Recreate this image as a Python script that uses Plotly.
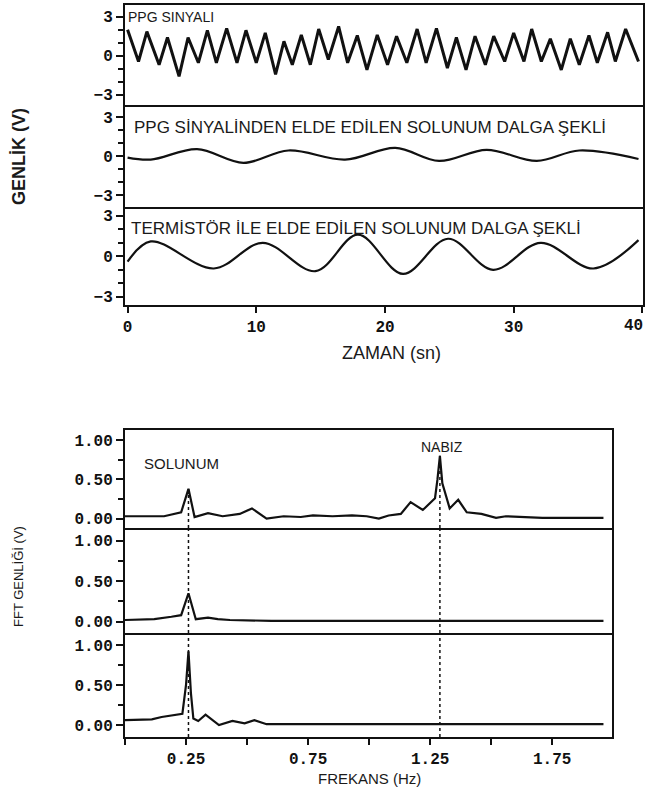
import plotly.graph_objects as go

# ---------------- data ----------------
ppg_t = [0, 0.85, 1.5, 2.45, 3.1, 4.0, 4.7, 5.5, 6.2, 6.9, 7.7, 8.5, 9.2, 10.0, 10.7, 11.5,
         12.15, 12.8, 13.5, 14.2, 14.85, 15.6, 16.4, 17.1, 17.85, 18.6, 19.4, 20.2, 20.9, 21.7,
         22.5, 23.2, 24.0, 24.85, 25.55, 26.3, 27.0, 27.8, 28.45, 29.3, 30.0, 30.8, 31.4, 32.15,
         32.85, 33.7, 34.4, 35.1, 35.85, 36.5, 37.3, 37.9, 38.7, 39.7]
ppg_v = [2.0, -0.45, 1.85, -0.7, 1.4, -1.6, 1.4, -0.55, 1.95, -0.55, 2.1, -0.55, 1.95, -0.55, 1.75, -1.45,
         1.1, -0.7, 1.6, -0.7, 2.05, -0.3, 2.25, -0.55, 1.55, -1.1, 1.6, -0.7, 1.5, -0.55,
         2.05, -0.55, 2.1, -0.95, 1.4, -1.1, 1.5, -0.7, 1.5, -0.45, 1.75, -0.45, 2.05, -0.45,
         1.3, -1.1, 1.3, -0.7, 1.55, -0.55, 1.8, -0.45, 2.05, -0.45]

resp_t = [0, 1.8, 5.4, 9.0, 12.5, 16.9, 20.8, 24.2, 27.9, 31.8, 35.1, 39.7]
resp_v = [-0.1, -0.25, 0.55, -0.5, 0.45, -0.25, 0.65, -0.35, 0.5, -0.35, 0.45, -0.2]

therm_t = [0, 1.8, 6.7, 10.5, 14.6, 17.9, 21.4, 24.9, 28.4, 32.1, 36.2, 39.7]
therm_v = [-0.4, 1.1, -0.9, 1.0, -1.1, 1.6, -1.3, 1.3, -1.0, 1.0, -0.9, 1.2]

fft1_f = [0, 0.16, 0.23, 0.26, 0.285, 0.34, 0.40, 0.47, 0.52, 0.58, 0.65, 0.72, 0.77, 0.85, 0.93, 0.99,
          1.04, 1.08, 1.13, 1.17, 1.22, 1.27, 1.28, 1.29, 1.30, 1.33, 1.365, 1.40, 1.46, 1.52, 1.56,
          1.62, 1.71, 1.96]
fft1_v = [0.03, 0.03, 0.08, 0.38, 0.02, 0.07, 0.03, 0.06, 0.13, 0.0, 0.03, 0.02, 0.04, 0.03, 0.04, 0.03,
          0.0, 0.04, 0.06, 0.21, 0.11, 0.26, 0.5, 0.8, 0.45, 0.13, 0.24, 0.08, 0.06, 0.01, 0.03,
          0.02, 0.01, 0.01]

fft2_f = [0, 0.12, 0.19, 0.23, 0.26, 0.29, 0.34, 0.38, 0.43, 0.6, 1.0, 1.5, 1.96]
fft2_v = [0.02, 0.03, 0.06, 0.08, 0.35, 0.03, 0.05, 0.03, 0.02, 0.01, 0.01, 0.01, 0.01]

fft3_f = [0, 0.11, 0.15, 0.2, 0.235, 0.25, 0.26, 0.27, 0.28, 0.30, 0.33, 0.385, 0.44, 0.49, 0.53, 0.58, 1.96]
fft3_v = [0.06, 0.07, 0.1, 0.12, 0.14, 0.5, 0.92, 0.4, 0.08, 0.05, 0.13, 0.0, 0.05, 0.02, 0.06, 0.01, 0.01]

resp_peak_f = 0.26
pulse_peak_f = 1.29

time_ticks = [0, 10, 20, 30, 40]
time_labels = ["0", "10", "20", "30", ""]
time_last_label = "40"
amp_ticks = [-3, 0, 3]
amp_labels = ["\u22123", "0", "3"]
freq_ticks = [0.25, 0.75, 1.25, 1.75]
freq_labels = ["0.25", "0.75", "1.25", "1.75"]
fftamp_ticks = [0.0, 0.5, 1.0]
fftamp_labels = ["0.00", "0.50", "1.00"]

texts_top = ["PPG SINYALI",
             "PPG S\u0130NYAL\u0130NDEN ELDE ED\u0130LEN SOLUNUM DALGA \u015eEKL\u0130",
             "TERM\u0130ST\u00d6R \u0130LE ELDE ED\u0130LEN SOLUNUM DALGA \u015eEKL\u0130"]

# ---------------- layout helpers ----------------
W, H = 646, 794
def px(x):
    return x / W
def py(y):
    return 1 - y / H

BLACK = "#111111"
TXT = "#1a1a1a"
TICKFONT = dict(family="Liberation Mono, Courier New, monospace", size=16, color=BLACK, weight="bold")
LABFONT = "Liberation Sans, Arial, sans-serif"

fig = go.Figure()

line_w = 2.2
fig.add_trace(go.Scatter(x=ppg_t, y=ppg_v, mode="lines", line=dict(color=BLACK, width=3),
                         xaxis="x", yaxis="y", showlegend=False))
fig.add_trace(go.Scatter(x=resp_t, y=resp_v, mode="lines", line=dict(color=BLACK, width=line_w, shape="spline"),
                         xaxis="x2", yaxis="y2", showlegend=False))
fig.add_trace(go.Scatter(x=therm_t, y=therm_v, mode="lines", line=dict(color=BLACK, width=line_w, shape="spline"),
                         xaxis="x3", yaxis="y3", showlegend=False))
fig.add_trace(go.Scatter(x=fft1_f, y=fft1_v, mode="lines", line=dict(color=BLACK, width=line_w),
                         xaxis="x4", yaxis="y4", showlegend=False))
fig.add_trace(go.Scatter(x=fft2_f, y=fft2_v, mode="lines", line=dict(color=BLACK, width=line_w),
                         xaxis="x5", yaxis="y5", showlegend=False))
fig.add_trace(go.Scatter(x=fft3_f, y=fft3_v, mode="lines", line=dict(color=BLACK, width=line_w),
                         xaxis="x6", yaxis="y6", showlegend=False))

top_x = [px(125), px(643)]
bot_x = [px(125), px(612)]
top_rows = [(5, 105), (107, 207), (209, 305)]
bot_rows = [(430, 528), (530, 633), (635, 737)]
top_xrange = [-0.2, 40.05]
top_yranges = [[-3.8, 3.9], [-3.9, 3.8], [-3.6, 3.5]]
bot_ranges = [[-0.12, 1.13], [-0.14, 1.13], [-0.15, 1.125]]

axes = {}
for i in range(3):
    n = i + 1
    xs = "" if n == 1 else str(n)
    last = (i == 2)
    axes["xaxis" + xs] = dict(
        domain=top_x, range=top_xrange, anchor="y" + xs, automargin=False,
        showline=True, linewidth=2, linecolor=BLACK, mirror=True, showgrid=False, zeroline=False,
        ticks="outside" if last else "", ticklen=6, tickwidth=2, tickcolor=BLACK,
        tickvals=time_ticks if last else [], ticktext=time_labels if last else None,
        showticklabels=last, tickfont=TICKFONT,
    )
    axes["yaxis" + xs] = dict(
        domain=[py(top_rows[i][1]), py(top_rows[i][0])], range=top_yranges[i], anchor="x" + xs,
        automargin=False,
        showline=True, linewidth=2, linecolor=BLACK, mirror=True, showgrid=False, zeroline=False,
        ticks="outside", ticklen=7, tickwidth=2, tickcolor=BLACK,
        tickvals=amp_ticks, ticktext=amp_labels, tickfont=TICKFONT,
        minor=dict(dtick=1, ticks="outside", ticklen=5, tickwidth=2, tickcolor=BLACK, tick0=0),
    )
for i in range(3):
    n = i + 4
    xs = str(n)
    last = (i == 2)
    axes["xaxis" + xs] = dict(
        domain=bot_x, range=[0, 1.995], anchor="y" + xs, automargin=False,
        showline=True, linewidth=2, linecolor=BLACK, mirror=True, showgrid=False, zeroline=False,
        ticks="outside" if last else "", ticklen=6, tickwidth=2, tickcolor=BLACK,
        tickvals=freq_ticks if last else [], ticktext=freq_labels if last else None,
        showticklabels=last, tickfont=TICKFONT,
        minor=dict(dtick=0.25, tick0=0, ticks="outside" if last else "", ticklen=6, tickwidth=2, tickcolor=BLACK),
    )
    axes["yaxis" + xs] = dict(
        domain=[py(bot_rows[i][1]), py(bot_rows[i][0])], range=bot_ranges[i], anchor="x" + xs,
        automargin=False,
        showline=True, linewidth=2, linecolor=BLACK, mirror=True, showgrid=False, zeroline=False,
        ticks="outside", ticklen=7, tickwidth=2, tickcolor=BLACK,
        tickvals=fftamp_ticks, ticktext=fftamp_labels, tickfont=TICKFONT,
        minor=dict(dtick=0.25, tick0=0, ticks="outside", ticklen=5, tickwidth=2, tickcolor=BLACK),
    )

# dotted marker lines at the breathing and pulse peaks
shapes = []
for f, peak in [(resp_peak_f, max(fft1_v[:5])), (pulse_peak_f, max(fft1_v))]:
    shapes.append(dict(type="line", xref="x4", yref="y4", x0=f, x1=f, y0=bot_ranges[0][0], y1=peak,
                       line=dict(color=BLACK, width=1.5, dash="dot")))
    for n in (5, 6):
        shapes.append(dict(type="line", xref="x%d" % n, yref="y%d domain" % n, x0=f, x1=f, y0=0, y1=1,
                           line=dict(color=BLACK, width=1.5, dash="dot")))

ann = []
ann.append(dict(text=texts_top[0], x=px(126), y=py(17), xanchor="left", yanchor="middle",
                font=dict(family=LABFONT, size=14, color=TXT)))
ann.append(dict(text=texts_top[1], x=px(132), y=py(127), xanchor="left", yanchor="middle",
                font=dict(family=LABFONT, size=17, color=TXT)))
ann.append(dict(text=texts_top[2], x=px(129), y=py(228), xanchor="left", yanchor="middle",
                font=dict(family=LABFONT, size=17, color=TXT)))
# last time tick label, kept fully inside the page at the right edge
ann.append(dict(text=time_last_label, x=px(645), y=py(306), xanchor="right", yanchor="top", yshift=-9,
                font=TICKFONT))
ann.append(dict(text="ZAMAN (sn)", x=px(391), y=py(353), xanchor="center", yanchor="middle",
                font=dict(family=LABFONT, size=18, color=TXT)))
ann.append(dict(text="GENL\u0130K (V)", x=px(19), y=py(157), xanchor="center", yanchor="middle", textangle=-90,
                font=dict(family=LABFONT, size=18, color=TXT, weight="bold")))
ann.append(dict(text="SOLUNUM", x=px(142), y=py(463), xanchor="left", yanchor="middle",
                font=dict(family=LABFONT, size=15, color=TXT)))
ann.append(dict(text="NABIZ", x=px(442), y=py(447), xanchor="center", yanchor="middle",
                font=dict(family=LABFONT, size=14, color=TXT)))
ann.append(dict(text="FFT GENL\u0130\u011e\u0130 (V)", x=px(18), y=py(577), xanchor="center", yanchor="middle",
                textangle=-90, font=dict(family=LABFONT, size=13, color=TXT)))
ann.append(dict(text="FREKANS (Hz)", x=px(370), y=py(778), xanchor="center", yanchor="middle",
                font=dict(family=LABFONT, size=15, color=TXT)))
for a in ann:
    a.update(xref="paper", yref="paper", showarrow=False)

fig.update_layout(
    width=W, height=H, margin=dict(l=0, r=0, t=0, b=0),
    paper_bgcolor="white", plot_bgcolor="white",
    shapes=shapes, annotations=ann, **axes,
)

# remove the browser's default page margin so the 646x794 figure fills the window exactly
fig.write_html("out.html",
               config={"displayModeBar": False},
               post_script="document.body.style.margin='0';document.body.style.overflow='hidden';")
